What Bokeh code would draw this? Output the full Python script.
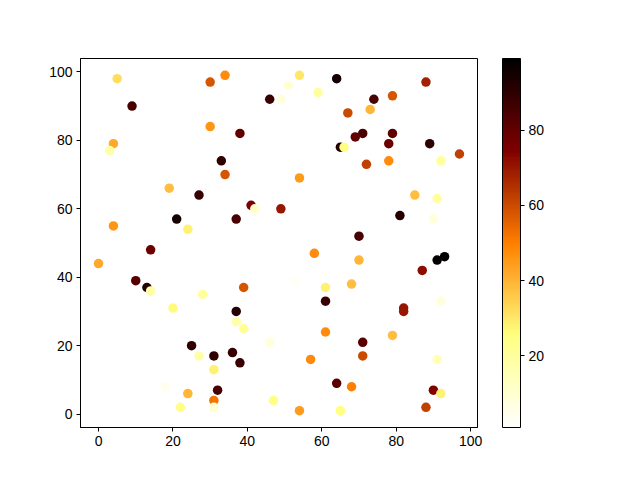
from bokeh.plotting import figure
from bokeh.models import ColumnDataSource, LinearColorMapper, ColorBar, Range1d, FixedTicker
from bokeh.embed import file_html
from bokeh.resources import INLINE

# scatter data (x, y, colour value)
xs = [5, 30, 34, 9, 46, 51, 54, 59, 64, 49, 67, 30, 4, 3, 33, 38, 34, 54, 19, 27,
      21, 24, 4, 41, 42, 49, 37, 14, 65, 66, 88, 79, 74, 73, 71, 69, 79, 78, 89, 97,
      92, 72, 78, 85, 91, 81, 90, 70, 91, 93, 87, 70, 68, 92, 82, 82, 79, 71, 71, 91,
      68, 64, 90, 92, 88, 65, 58, 53, 61, 61, 39, 37, 37, 39, 61, 46, 57, 36, 38, 31,
      31, 32, 31, 31, 47, 54, 0, 10, 13, 14, 28, 20, 25, 27, 18, 24, 3, 22]
ys = [98, 97, 99, 90, 92, 96, 99, 94, 98, 92, 88, 84, 79, 77, 74, 82, 70, 69, 66, 64,
      57, 54, 55, 61, 60, 60, 57, 48, 78, 78, 97, 93, 92, 89, 82, 81, 82, 79, 79, 76,
      74, 73, 74, 64, 63, 58, 57, 52, 45, 46, 42, 45, 38, 33, 31, 30, 23, 21, 17, 16,
      8, 9, 7, 6, 2, 1, 47, 39, 37, 33, 37, 30, 27, 25, 24, 21, 16, 18, 15, 17,
      13, 7, 4, 2, 4, 1, 44, 39, 37, 36, 35, 31, 20, 17, 8, 6, 4, 2]
cs = [32, 58, 48, 85, 88, 10, 30, 20, 95, 8, 60, 46, 42, 18, 90, 80, 58, 45, 38, 88,
      95, 28, 46, 75, 12, 70, 85, 78, 92, 25, 68, 58, 85, 40, 85, 80, 80, 78, 90, 62,
      20, 62, 48, 38, 20, 92, 8, 85, 98, 99, 72, 40, 38, 8, 70, 70, 38, 82, 60, 15,
      50, 82, 74, 28, 62, 25, 48, 3, 28, 88, 58, 92, 18, 22, 48, 8, 48, 88, 88, 90,
      28, 85, 52, 10, 25, 45, 42, 82, 92, 18, 20, 26, 90, 18, 5, 40, 1, 24]
cbar_ticks = [20, 40, 60, 80]


# afmhot_r colormap
def afmhot_r(n=256):
    out = []
    for i in range(n):
        v = 1.0 - i / (n - 1)
        r = min(max(2 * v, 0), 1)
        g = min(max(2 * v - 0.5, 0), 1)
        b = min(max(2 * v - 1, 0), 1)
        out.append("#%02x%02x%02x" % (round(r * 255), round(g * 255), round(b * 255)))
    return out


palette = afmhot_r()
mapper = LinearColorMapper(palette=palette, low=min(cs), high=max(cs))

src = ColumnDataSource(data=dict(x=xs, y=ys, c=cs))

p = figure(frame_width=397, frame_height=369, output_backend="svg", toolbar_location=None,
           x_range=Range1d(-4.85, 101.85), y_range=Range1d(-3.9, 103.9),
           min_border_left=80, min_border_top=58, min_border_bottom=53, min_border_right=100)
p.scatter("x", "y", source=src, size=9.5, line_color=None,
          fill_color={"field": "c", "transform": mapper})

p.xgrid.visible = False
p.ygrid.visible = False
p.outline_line_color = "black"
p.outline_line_width = 1
p.background_fill_color = "white"
p.border_fill_color = "white"

p.xaxis.ticker = FixedTicker(ticks=[0, 20, 40, 60, 80, 100])
p.yaxis.ticker = FixedTicker(ticks=[0, 20, 40, 60, 80, 100])
for ax in (p.xaxis, p.yaxis):
    ax.axis_line_color = "black"
    ax.major_tick_in = 0
    ax.major_tick_out = 4
    ax.minor_tick_line_color = None
    ax.major_tick_line_color = "black"
    ax.major_label_text_font = "Liberation Sans"
    ax.major_label_text_font_size = "14px"
    ax.major_label_text_color = "black"
p.yaxis.major_label_standoff = 4
p.xaxis.major_label_standoff = 4

# colour bar sits 25px right of the frame
cb = ColorBar(color_mapper=mapper, width=18, height=369, margin=0, padding=0,
              location=(422, 0),
              ticker=FixedTicker(ticks=cbar_ticks),
              bar_line_color="black", border_line_color=None,
              major_tick_in=0, major_tick_out=4, major_tick_line_color="black",
              minor_tick_line_color=None,
              major_label_text_font="Liberation Sans",
              major_label_text_font_size="14px",
              major_label_text_color="black",
              label_standoff=4, background_fill_color=None)
p.add_layout(cb, "center")

open("out.html", "w").write(file_html(p, INLINE))
